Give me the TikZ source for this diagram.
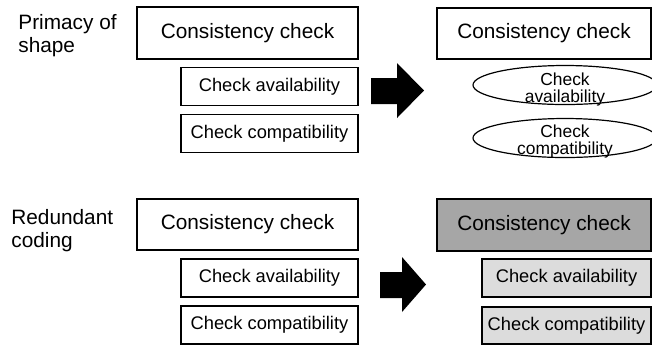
\documentclass[tikz,border=0pt]{standalone}
\usepackage{fontspec}
\setmainfont{Liberation Sans}
\usepackage{xcolor}
\usepackage{tikz}
\usetikzlibrary{shapes.geometric}
\definecolor{headgray}{HTML}{A6A6A6}
\definecolor{subgray}{HTML}{DCDCDC}

\begin{document}
\begin{tikzpicture}[x=0.5pt,y=-0.5pt,
    every node/.style={inner sep=0pt},
    bigbox/.style={draw,line width=0.6pt,minimum width=110.5pt,minimum height=26pt,font=\fontsize{10.4}{12}\selectfont},
    subbox/.style={draw,line width=0.6pt,minimum width=88.5pt,minimum height=18.75pt,font=\fontsize{9.15}{11}\selectfont},
    oval/.style={draw,ellipse,line width=0.6pt,minimum width=92pt,minimum height=19.5pt},
    ovaltext/.style={align=center,font=\fontsize{8.7}{8.3}\selectfont},
    rowlabel/.style={anchor=north west,align=left,font=\fontsize{10.4}{11.5}\selectfont}]
  \useasboundingbox (0,0) rectangle (652,345);

  % primacy of shape
  \node[rowlabel] (primacy) at (18,14.5) {Primacy of\\shape};
  \node[bigbox] (consA) at (247.5,33) {Consistency check};
  \node[subbox] (availA) at (269.5,86.5) {Check availability};
  \node[subbox] (compA) at (269.5,133.5) {Check compatibility};
  \fill (371,78) -- (397,78) -- (397,63) -- (424,90.5) -- (397,118) -- (397,104) -- (371,104) -- cycle;
  \node[bigbox,minimum width=107pt,minimum height=25.5pt] (consB) at (544,33.5) {Consistency check};
  \node[oval] (availB) at (565,85) {};
  \node[ovaltext] (availBtext) at (565,89.5) {Check\\availability};
  \node[oval] (compB) at (565,138) {};
  \node[ovaltext] (compBtext) at (565,141.5) {Check\\compatibility};

  % redundant coding
  \node[rowlabel] (redundant) at (11,209) {Redundant\\coding};
  \node[bigbox,minimum height=25.5pt] (consC) at (247.5,224.5) {Consistency check};
  \node[subbox,minimum height=19pt] (availC) at (269.5,278) {Check availability};
  \node[subbox,minimum height=19pt] (compC) at (269.5,325) {Check compatibility};
  \fill (380,272) -- (402,272) -- (402,257) -- (426,284.5) -- (402,312) -- (402,298) -- (380,298) -- cycle;
  \node[bigbox,fill=headgray,minimum width=107pt] (consD) at (544,225) {Consistency check};
  \node[subbox,fill=subgray,minimum width=84.5pt,minimum height=19pt] (availD) at (566.5,278) {Check availability};
  \node[subbox,fill=subgray,minimum width=84.5pt,minimum height=18.5pt] (compD) at (566.5,325.5) {Check compatibility};
\end{tikzpicture}
\end{document}
